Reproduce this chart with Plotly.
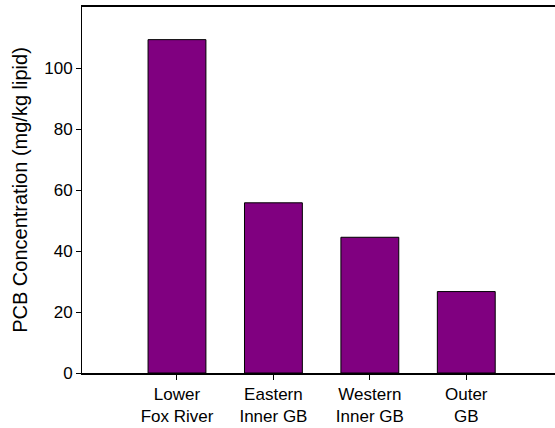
import plotly.graph_objects as go

categories = ["Lower<br>Fox River", "Eastern<br>Inner GB", "Western<br>Inner GB", "Outer<br>GB"]
values = [109.3, 55.8, 44.5, 26.7]
y_ticks = [0, 20, 40, 60, 80, 100]

fig = go.Figure(go.Bar(
    x=list(range(len(categories))), y=values, width=0.6,
    marker=dict(color="#800080", line=dict(color="black", width=1)),
))
fig.update_layout(
    width=555, height=428,
    margin=dict(l=82, r=0, t=7, b=55),
    plot_bgcolor="white", paper_bgcolor="white",
    font=dict(family="Liberation Sans, Arial", size=17, color="black"),
    showlegend=False,
)
fig.update_xaxes(
    tickmode="array", tickvals=list(range(len(categories))), ticktext=categories,
    range=[-0.985, 3.92], showline=True, linecolor="black", linewidth=1.5,
    mirror=True, ticks="outside", ticklen=5, tickcolor="black", showgrid=False,
    zeroline=False, automargin=False,
)
fig.update_yaxes(
    range=[0, 120], tickvals=y_ticks, showline=True, linecolor="black", linewidth=1,
    ticks="outside", ticklen=5, tickcolor="black", showgrid=False, zeroline=False,
    automargin=False,
    title=dict(text="PCB Concentration (mg/kg lipid)", standoff=11),
)
fig.write_html(
    "out.html",
    config={"displayModeBar": False},
    post_script="document.body.style.margin='0';document.body.style.overflow='hidden';",
)
